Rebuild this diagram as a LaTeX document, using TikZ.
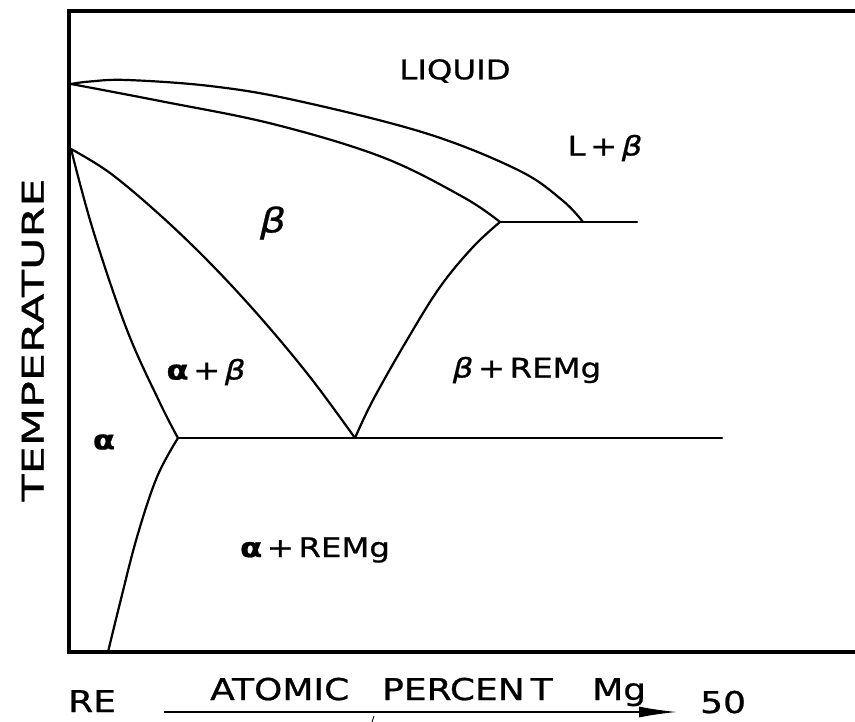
\documentclass[tikz,border=0pt]{standalone}
\usepackage{fontspec}
\setmainfont{DejaVu Sans}[FakeStretch=1.2, FakeBold=0.8]
\newfontfamily\tempfont{DejaVu Sans}[FakeStretch=1.48, FakeBold=0.8]
\usetikzlibrary{arrows.meta}
\newcommand\gbeta{{\itshape β}}
\newcommand\galpha{{\bfseries α}}
\tikzset{
  frameline/.style={line width=4.5pt, line cap=rect, line join=miter},
  phase/.style={line width=2.2pt, line join=round, line cap=round},
  lbl/.style={font=\fontsize{27}{30}\selectfont, inner sep=0pt},
  axlbl/.style={font=\fontsize{30}{34}\selectfont, inner sep=0pt},
}
\begin{document}
\begin{tikzpicture}[x=1pt,y=-1pt]
\useasboundingbox (0,0) rectangle (855,722);
\fill[white] (0,0) rectangle (855,722);
% key points
\coordinate (TR) at (860,11);
\coordinate (TL) at (69,11);
\coordinate (BL) at (69,652);
\coordinate (BR) at (860,652);
\coordinate (M) at (71,84);
\coordinate (B) at (71,149);
\coordinate (P) at (500,222);
\coordinate (Q) at (583,222);
\coordinate (PR) at (637,222);
\coordinate (E) at (355,438);
\coordinate (C) at (178,438);
\coordinate (ER) at (722,438);
\coordinate (S) at (108,652);
% frame
\draw[frameline] (TR) -- (TL) -- (BL) -- (BR);
% liquidus
\draw[phase] plot[smooth, tension=0.6] coordinates {(M) (90,81.5) (127,80) (210,86) (294,100) (425,133) (518,170) (562,200) (Q)};
% solidus
\draw[phase] plot[smooth, tension=0.6] coordinates {(M) (160,101) (273,124) (382,157) (463,197) (P)};
% peritectic line
\draw[phase] (P) -- (PR);
% beta / alpha+beta
\draw[phase] plot[smooth, tension=0.6] coordinates {(B) (110,173) (160,215) (210,263) (260,317) (310,377) (E)};
% alpha / alpha+beta
\draw[phase] plot[smooth, tension=0.6] coordinates {(B) (93,230) (127,330) (160,403) (C)};
% beta / beta+REMg
\draw[phase] plot[smooth, tension=0.6] coordinates {(P) (473,247) (440,287) (407,340) (373,400) (E)};
% eutectoid line
\draw[phase] (C) -- (ER);
% alpha solvus
\draw[phase] plot[smooth, tension=0.6] coordinates {(C) (157,477) (137,537) (120,603) (S)};
% region labels
\node[lbl] (liq) at (455,71) {LIQUID};
\node[lbl] (lb) at (605,148) {L\,+\,\gbeta};
\node[lbl, font=\fontsize{34}{36}\selectfont] (b) at (273,223) {\gbeta};
\node[lbl] (ab) at (206,372) {\galpha\,+\,\gbeta};
\node[lbl] (brem) at (527,370) {\gbeta\,+\,REMg};
\node[lbl] (a) at (104,442) {\galpha};
\node[lbl] (arem) at (315,550) {\galpha\,+\,REMg};
% axis labels
\node[axlbl, font=\tempfont\fontsize{30}{34}\selectfont, rotate=90] (temp) at (33,340) {TEMPERATURE};
\node[axlbl, anchor=base west] (re) at (68,712) {RE};
\node[axlbl, anchor=base west] (at) at (210,700) {ATOMIC};
\node[axlbl, anchor=base west] (pc) at (382,700) {PERCEN\hspace{6pt}T};
\node[axlbl, anchor=base west] (mg) at (592,700) {Mg};
\node[axlbl, anchor=base west] (fifty) at (700,713) {50};
\coordinate (arS) at (164,712);
\coordinate (arE) at (677,712);
\draw[line width=1.6pt, -{Latex[length=38pt,width=11pt]}] (arS) -- (arE);
\coordinate (tk1) at (374,716);
\coordinate (tk2) at (372,722);
\draw[line width=0.8pt] (tk1) -- (tk2);
\end{tikzpicture}
\end{document}
